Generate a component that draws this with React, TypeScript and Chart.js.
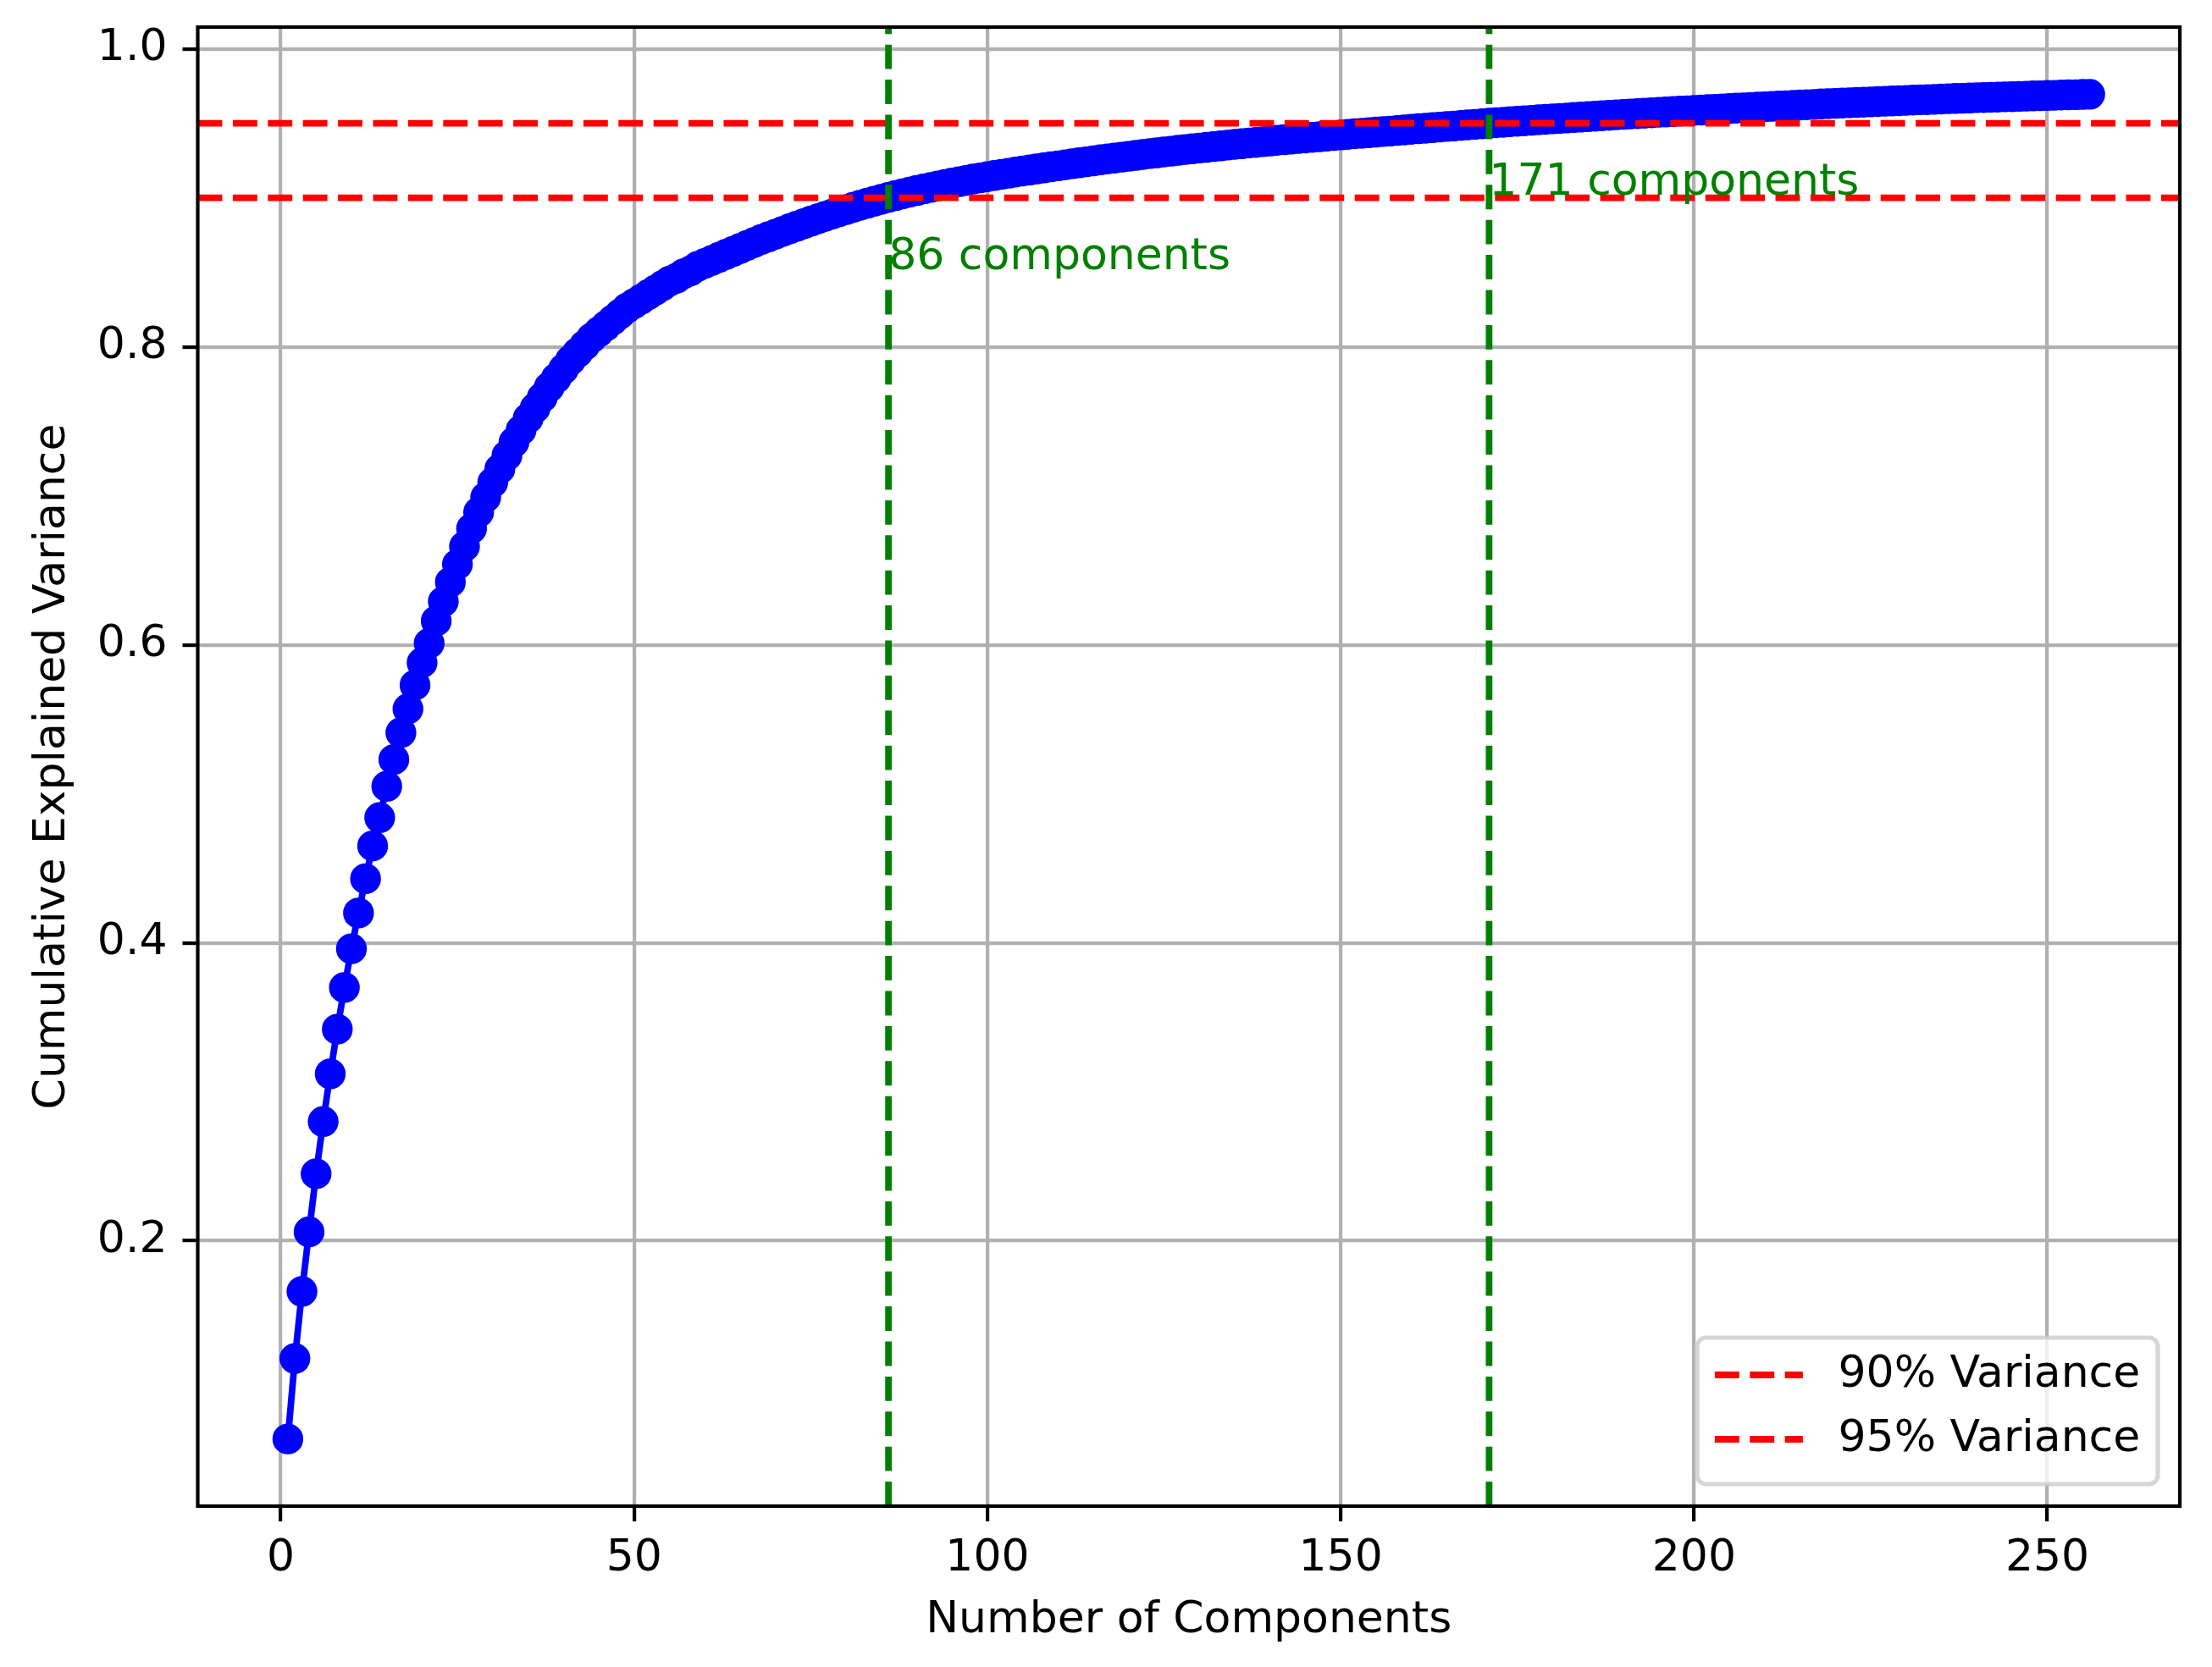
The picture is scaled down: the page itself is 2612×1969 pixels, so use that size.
import React, { useEffect, useRef } from "react";
import { Chart, registerables } from "chart.js";

Chart.register(...registerables);

// Cumulative explained variance for components 1..256
const cumulativeVariance = [
  0.067, 0.121, 0.166, 0.206, 0.245, 0.280, 0.312, 0.342, 0.370, 0.396,
  0.420, 0.443, 0.465, 0.484, 0.505, 0.523, 0.541, 0.557, 0.573, 0.588,
  0.601, 0.616, 0.629, 0.642, 0.654, 0.666, 0.678, 0.689, 0.699, 0.709,
  0.718, 0.727, 0.736, 0.744, 0.752, 0.759, 0.766, 0.773, 0.779, 0.785,
  0.791, 0.796, 0.801, 0.806, 0.810, 0.814, 0.818, 0.822, 0.826, 0.829,
  0.832, 0.835, 0.838, 0.841, 0.844, 0.846, 0.849, 0.851, 0.854, 0.856,
  0.858, 0.860, 0.862, 0.864, 0.866, 0.868, 0.870, 0.872, 0.8738, 0.8756,
  0.8774, 0.8792, 0.8809, 0.8826, 0.8843, 0.8859, 0.8875, 0.8891, 0.8906, 0.8921,
  0.8936, 0.8950, 0.8964, 0.8977, 0.8990, 0.9003, 0.9015, 0.9027, 0.9038, 0.9049,
  0.9060, 0.9070, 0.9080, 0.9090, 0.9099, 0.9108, 0.9117, 0.9126, 0.9134, 0.9142,
  0.9150, 0.9158, 0.9165, 0.9173, 0.9180, 0.9187, 0.9194, 0.9201, 0.9208, 0.9215,
  0.9222, 0.9229, 0.9235, 0.9242, 0.9248, 0.9255, 0.9261, 0.9267, 0.9273, 0.9279,
  0.9285, 0.9291, 0.9297, 0.9302, 0.9308, 0.9313, 0.9319, 0.9324, 0.9329, 0.9334,
  0.9339, 0.9344, 0.9349, 0.9354, 0.9359, 0.9363, 0.9368, 0.9372, 0.9377, 0.9381,
  0.9386, 0.9390, 0.9394, 0.9398, 0.9402, 0.9406, 0.9410, 0.9414, 0.9418, 0.9422,
  0.9426, 0.9430, 0.9433, 0.9437, 0.9441, 0.9445, 0.9448, 0.9452, 0.9456, 0.9460,
  0.9464, 0.9467, 0.9471, 0.9475, 0.9479, 0.9482, 0.9486, 0.9490, 0.9493, 0.9497,
  0.9501, 0.9504, 0.9507, 0.9511, 0.9514, 0.9517, 0.9520, 0.9524, 0.9527, 0.9530,
  0.9533, 0.9536, 0.9539, 0.9542, 0.9545, 0.9548, 0.9551, 0.9554, 0.9557, 0.9560,
  0.9563, 0.9565, 0.9568, 0.9571, 0.9574, 0.9576, 0.9579, 0.9582, 0.9584, 0.9587,
  0.9589, 0.9592, 0.9594, 0.9597, 0.9599, 0.9602, 0.9604, 0.9607, 0.9609, 0.9611,
  0.9614, 0.9616, 0.9618, 0.9621, 0.9623, 0.9625, 0.9627, 0.9630, 0.9632, 0.9634,
  0.9636, 0.9638, 0.9640, 0.9642, 0.9644, 0.9646, 0.9648, 0.9650, 0.9652, 0.9654,
  0.9656, 0.9658, 0.9659, 0.9661, 0.9663, 0.9665, 0.9667, 0.9668, 0.9670, 0.9672,
  0.9673, 0.9675, 0.9676, 0.9678, 0.9679, 0.9681, 0.9682, 0.9684, 0.9685, 0.9687,
  0.9688, 0.9690, 0.9691, 0.9692, 0.9694, 0.9695,
];
const componentNumbers = cumulativeVariance.map((_, i) => i + 1);

const thresholdValues = [0.9, 0.95];
const thresholdLabels = ["90% Variance", "95% Variance"];
const crossingComponents = [86, 171];
const annotationLabels = ["86 components", "171 components"];
const annotationY = [0.85, 0.9];

const xTickValues = [0, 50, 100, 150, 200, 250];
const yTickValues = [0.2, 0.4, 0.6, 0.8, 1.0];
const xLimits = [-11.75, 268.75];
const yLimits = [0.0219, 1.0146];

const xAxisTitle = "Number of Components";
const yAxisTitle = "Cumulative Explained Variance";

const W = 2612;
const H = 1969;
const FAMILY = "'DejaVu Sans', 'Liberation Sans', sans-serif";
const FS = 52;
const LW = 7.8;
const DASH = [28.9, 12.5];

const overlayPlugin = {
  id: "overlay",
  afterDatasetsDraw(chart: any) {
    const { ctx, chartArea, scales } = chart;
    const { left, right, top, bottom } = chartArea;
    const xs = scales.x;
    const ys = scales.y;
    ctx.save();
    // annotation texts
    ctx.fillStyle = "#008000";
    ctx.font = `${FS}px ${FAMILY}`;
    ctx.textAlign = "left";
    ctx.textBaseline = "alphabetic";
    crossingComponents.forEach((c, i) => {
      ctx.fillText(annotationLabels[i], xs.getPixelForValue(c), ys.getPixelForValue(annotationY[i]) - 4);
    });
    // spines
    ctx.strokeStyle = "#000";
    ctx.lineWidth = 4.2;
    ctx.lineJoin = "miter";
    ctx.setLineDash([]);
    ctx.strokeRect(left, top, right - left, bottom - top);

    // legend (lower right)
    const pad = 0.4 * FS;
    const handleLen = 2.0 * FS;
    const handleGap = 0.8 * FS;
    const tw = Math.max(...thresholdLabels.map((t) => ctx.measureText(t).width));
    const bw = pad + handleLen + handleGap + tw + pad;
    const bh = 173;
    const bx = right - 0.5 * FS - bw;
    const by = bottom - 0.5 * FS - bh;
    const r = 0.2 * FS;
    ctx.beginPath();
    ctx.moveTo(bx + r, by);
    ctx.lineTo(bx + bw - r, by);
    ctx.arcTo(bx + bw, by, bx + bw, by + r, r);
    ctx.lineTo(bx + bw, by + bh - r);
    ctx.arcTo(bx + bw, by + bh, bx + bw - r, by + bh, r);
    ctx.lineTo(bx + r, by + bh);
    ctx.arcTo(bx, by + bh, bx, by + bh - r, r);
    ctx.lineTo(bx, by + r);
    ctx.arcTo(bx, by, bx + r, by, r);
    ctx.closePath();
    ctx.fillStyle = "rgba(255,255,255,0.8)";
    ctx.fill();
    ctx.strokeStyle = "rgba(204,204,204,0.8)";
    ctx.lineWidth = 5.2;
    ctx.stroke();
    const rowYs = [by + 44, by + 120];
    thresholdLabels.forEach((label, i) => {
      const ds = chart.data.datasets[1 + i];
      const y = rowYs[i];
      ctx.beginPath();
      ctx.strokeStyle = ds.borderColor;
      ctx.lineWidth = ds.borderWidth;
      ctx.lineCap = "butt";
      ctx.setLineDash(ds.borderDash);
      ctx.moveTo(bx + pad, y);
      ctx.lineTo(bx + pad + handleLen, y);
      ctx.stroke();
      ctx.setLineDash([]);
      ctx.fillStyle = "#000";
      ctx.textBaseline = "middle";
      ctx.fillText(label, bx + pad + handleLen + handleGap, y);
    });
    ctx.restore();
  },
};

export default function App() {
  const canvasRef = useRef<HTMLCanvasElement | null>(null);

  useEffect(() => {
    const canvas = canvasRef.current;
    if (!canvas) return;
    const font = { family: FAMILY, size: FS };
    const chart = new Chart(canvas, {
      type: "line",
      data: {
        datasets: [
          {
            label: "Cumulative Explained Variance",
            data: componentNumbers.map((c, i) => ({ x: c, y: cumulativeVariance[i] })),
            borderColor: "#0000ff",
            backgroundColor: "#0000ff",
            borderWidth: LW,
            pointRadius: 15.6,
            pointBorderWidth: 5.2,
            pointBackgroundColor: "#0000ff",
            pointBorderColor: "#0000ff",
            pointStyle: "circle",
            tension: 0,
            fill: false,
            order: 10,
          },
          ...thresholdValues.map((t, i) => ({
            label: thresholdLabels[i],
            data: [
              { x: xLimits[0], y: t },
              { x: xLimits[1], y: t },
            ],
            borderColor: "#ff0000",
            borderWidth: LW,
            borderDash: DASH,
            pointRadius: 0,
            fill: false,
            order: 9 - i,
          })),
          ...crossingComponents.map((c, i) => ({
            label: annotationLabels[i],
            data: [
              { x: c, y: yLimits[0] },
              { x: c, y: yLimits[1] },
            ],
            borderColor: "#008000",
            borderWidth: LW,
            borderDash: DASH,
            pointRadius: 0,
            fill: false,
            order: 7 - i,
          })),
        ],
      },
      options: {
        responsive: false,
        animation: false,
        devicePixelRatio: 1,
        layout: { padding: { left: 0, right: 38, top: 32, bottom: 0 } },
        plugins: {
          legend: { display: false },
          tooltip: { enabled: false },
        },
        scales: {
          x: {
            type: "linear",
            min: xLimits[0],
            max: xLimits[1],
            afterBuildTicks: (s: any) => {
              s.ticks = xTickValues.map((v) => ({ value: v }));
            },
            afterFit: (s: any) => {
              s.height = 190;
              s.paddingLeft = 0;
              s.paddingRight = 0;
              s.paddingTop = 0;
              s.paddingBottom = 0;
            },
            grid: {
              color: "#b0b0b0",
              lineWidth: 4.2,
              drawTicks: true,
              tickLength: 18,
              tickWidth: 4.2,
              tickColor: "#000000",
            },
            border: { display: false },
            ticks: {
              font,
              color: "#000000",
              padding: 13,
              maxRotation: 0,
              minRotation: 0,
              autoSkip: false,
              callback: (v: any) => String(v),
            },
            title: {
              display: true,
              text: xAxisTitle,
              font,
              color: "#000000",
              padding: { top: 0, bottom: 23 },
            },
          },
          y: {
            type: "linear",
            min: yLimits[0],
            max: yLimits[1],
            afterBuildTicks: (s: any) => {
              s.ticks = yTickValues.map((v) => ({ value: v }));
            },
            afterFit: (s: any) => {
              s.width = 233.5;
              s.paddingLeft = 0;
              s.paddingRight = 0;
              s.paddingTop = 0;
              s.paddingBottom = 0;
            },
            grid: {
              color: "#b0b0b0",
              lineWidth: 4.2,
              drawTicks: true,
              tickLength: 18,
              tickWidth: 4.2,
              tickColor: "#000000",
            },
            border: { display: false },
            ticks: {
              font,
              color: "#000000",
              padding: 18,
              autoSkip: false,
              callback: (v: any) => Number(v).toFixed(1),
            },
            title: {
              display: true,
              text: yAxisTitle,
              font,
              color: "#000000",
              padding: { top: 31, bottom: 0 },
            },
          },
        },
      },
      plugins: [overlayPlugin],
    } as any);
    return () => chart.destroy();
  }, []);

  return (
    <div style={{ position: "absolute", left: 0, top: 0, width: W, height: H, background: "#fff" }}>
      <canvas ref={canvasRef} width={W} height={H} style={{ display: "block", width: W, height: H }} />
    </div>
  );
}
